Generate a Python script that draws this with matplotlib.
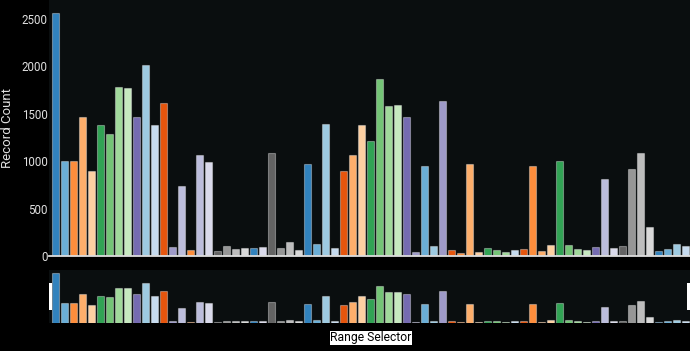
import matplotlib
matplotlib.use("Agg")
from matplotlib import pyplot as plt
from matplotlib.patches import Rectangle

plt.rcParams['font.family'] = ['Roboto', 'DejaVu Sans']

# record counts per category, left to right
counts = [2560, 1000, 1000, 1460, 900, 1380, 1290, 1780, 1770, 1460,
          2010, 1385, 1610, 98, 742, 60, 1069, 988, 56, 102,
          77, 81, 81, 91, 1083, 81, 144, 67, 970, 127,
          1392, 81, 893, 1062, 1385, 1213, 1867, 1582, 1596, 1466,
          46, 949, 109, 1628, 63, 32, 974, 39, 81, 67,
          39, 67, 74, 949, 53, 120, 999, 120, 74, 60,
          98, 816, 81, 109, 918, 1087, 302, 49, 77, 130,
          105]

colors = ["#3182bd", "#6baed6", "#fd8d3c", "#fdae6b", "#fdd0a2", "#31a354", "#74c476", "#a1d99b", "#c7e9c0", "#756bb1",
          "#9ecae1", "#c6dbef", "#e6550d", "#9e9ac8", "#bcbddc", "#fd8d3c", "#bcbddc", "#dadaeb", "#636363", "#969696",
          "#bdbdbd", "#d9d9d9", "#3182bd", "#dadaeb", "#636363", "#969696", "#bdbdbd", "#d9d9d9", "#3182bd", "#6baed6",
          "#9ecae1", "#c6dbef", "#e6550d", "#fdae6b", "#fdd0a2", "#31a354", "#74c476", "#a1d99b", "#c7e9c0", "#756bb1",
          "#9e9ac8", "#6baed6", "#9ecae1", "#9e9ac8", "#e6550d", "#fd8d3c", "#fdae6b", "#fdd0a2", "#31a354", "#74c476",
          "#a1d99b", "#c6dbef", "#e6550d", "#fd8d3c", "#fdae6b", "#fdd0a2", "#31a354", "#74c476", "#a1d99b", "#c7e9c0",
          "#756bb1", "#bcbddc", "#dadaeb", "#636363", "#969696", "#bdbdbd", "#d9d9d9", "#3182bd", "#6baed6", "#9ecae1",
          "#c6dbef"]

yticks = [0, 500, 1000, 1500, 2000, 2500]

x = list(range(len(counts)))
W, H = 690, 351
bg = "#0a0e0f"
edge = (1, 1, 1, 0.35)

fig = plt.figure(figsize=(W / 100, H / 100), dpi=100, facecolor="black")

# main chart
ax = fig.add_axes([49 / W, (H - 256) / H, (690 - 49) / W, 256 / H])
ax.set_facecolor(bg)
ax.bar(x, counts, width=0.83, color=colors, edgecolor=edge, linewidth=0.8)
ax.set_xlim(-0.71, 70.49)
ax.set_ylim(0, 2697)
ax.set_yticks(yticks)
ax.set_xticks([])
ax.tick_params(axis="y", length=0, pad=1, labelsize=8.3, colors="#e0e0e0")
for s in ["top", "right", "left"]:
    ax.spines[s].set_visible(False)
ax.spines["bottom"].set_color("#dddddd")
ax.spines["bottom"].set_linewidth(1.3)
fig.text(8 / W, 1 - 128 / H, "Record Count", rotation=90, color="#e0e0e0",
         fontsize=9.5, ha="center", va="center")

# range selector
ax2 = fig.add_axes([49 / W, (H - 322.7) / H, (690 - 49) / W, 52.7 / H])
ax2.set_facecolor(bg)
ax2.bar(x, counts, width=0.83, color=colors, edgecolor=edge, linewidth=0.8)
ax2.set_xlim(-0.71, 70.49)
ax2.set_ylim(0, 2697)
ax2.set_xticks([])
ax2.set_yticks([])
for s in ax2.spines.values():
    s.set_visible(False)

# selector handles
for hx in [49.3, 687.3]:
    fig.patches.append(Rectangle((hx / W, (H - 310) / H), 2.7 / W, 27 / H,
                                 transform=fig.transFigure, facecolor="white",
                                 edgecolor="none", zorder=5))

fig.text(371 / W, 1 - 338 / H, "Range Selector", color="black", fontsize=8.7,
         ha="center", va="center",
         bbox=dict(boxstyle="square,pad=0.05", facecolor="white", edgecolor="none"))

fig.savefig("out.png", dpi=100, facecolor="black")
